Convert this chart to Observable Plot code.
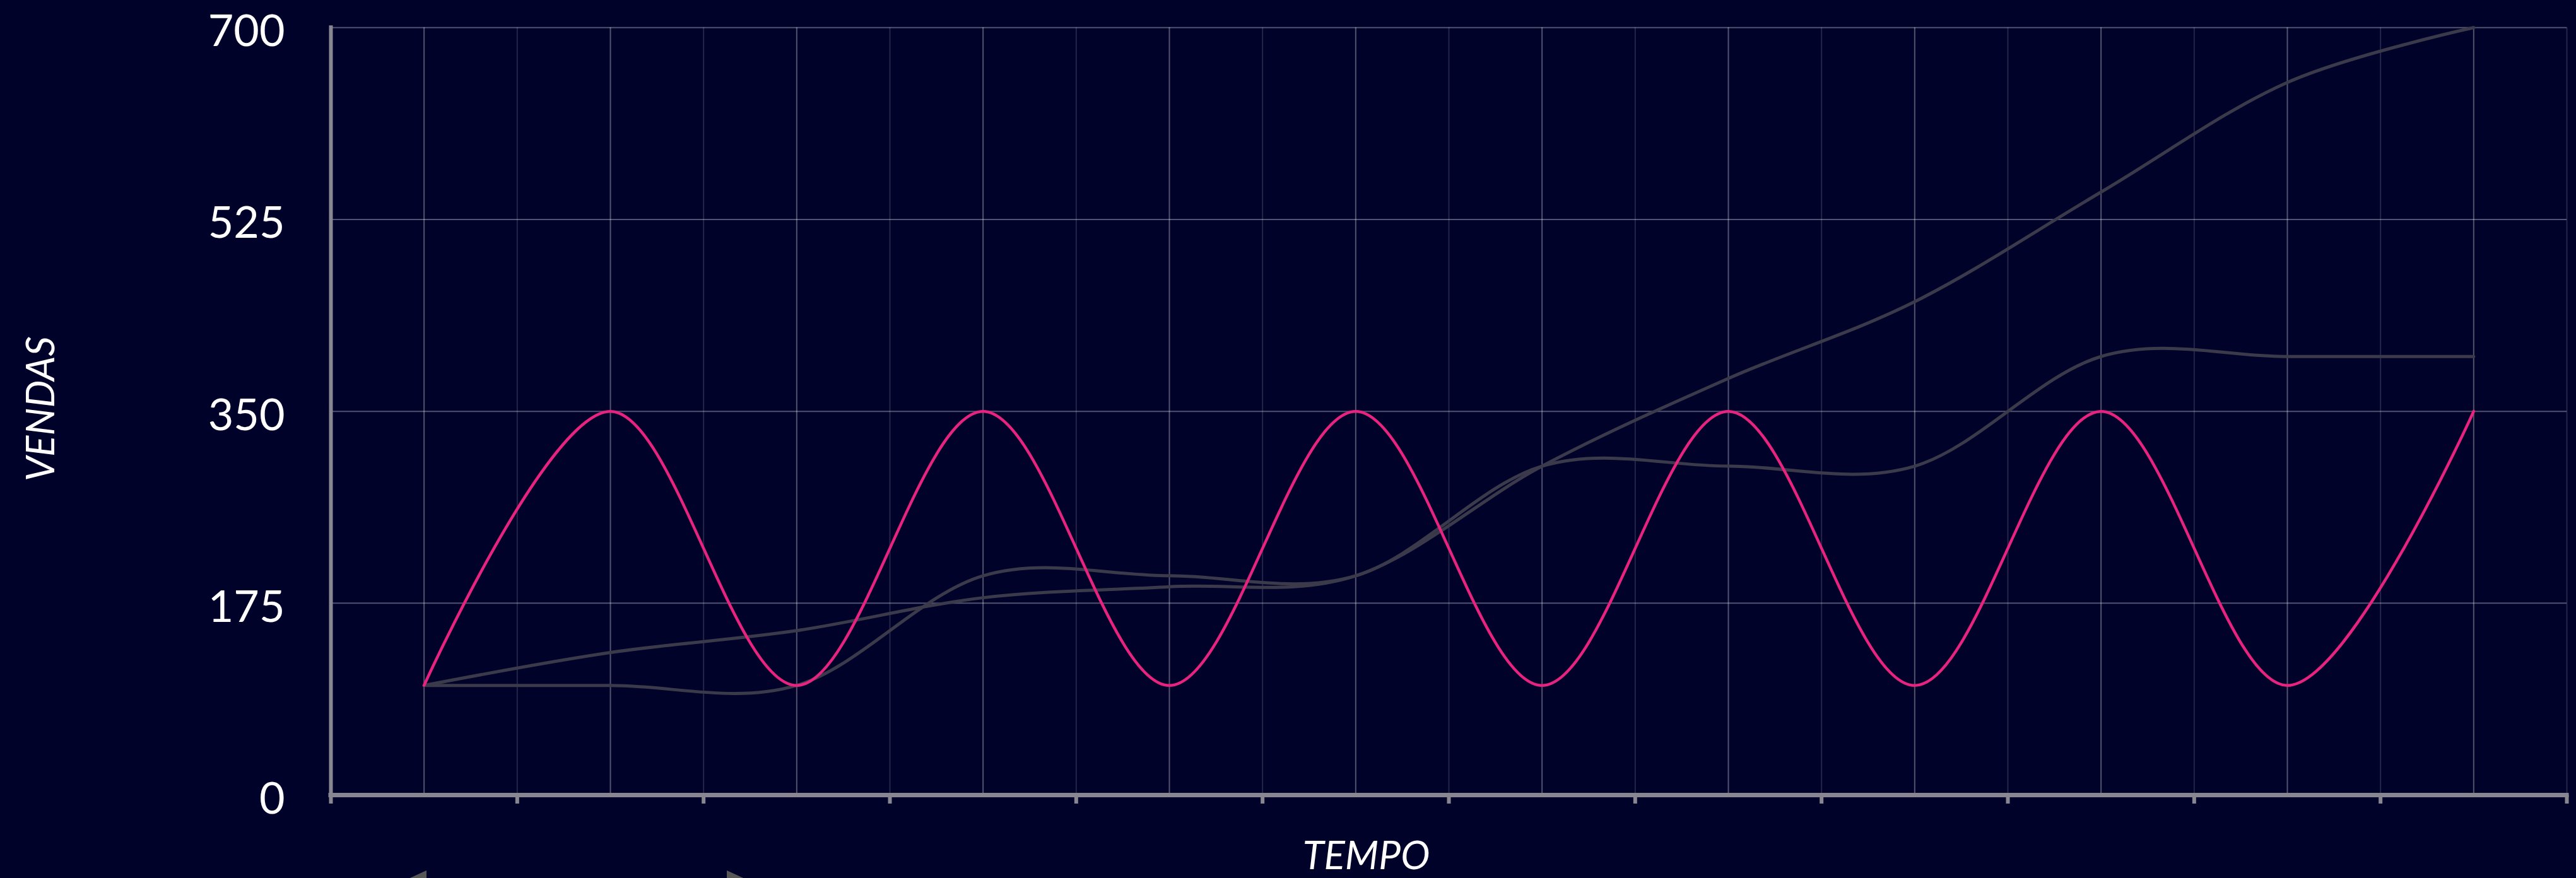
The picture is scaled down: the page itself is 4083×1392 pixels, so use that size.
<!DOCTYPE html>
<html>
<head>
<meta charset="utf-8">
<script src="https://cdn.jsdelivr.net/npm/d3@7"></script>
<script src="https://cdn.jsdelivr.net/npm/@observablehq/plot@0.6"></script>
<style>
  html, body { margin: 0; padding: 0; background: #00022a; overflow: hidden; }
  #chart { position: relative; width: 4083px; height: 1392px; }
  /* pagination arrows below the chart */
  .nav { position: absolute; top: 1380px; width: 0; height: 0;
         border-top: 22px solid transparent; border-bottom: 22px solid transparent; }
  .nav.prev { left: 628px; border-right: 48px solid #575757; }
  .nav.next { left: 1152px; border-left: 48px solid #575757; }
</style>
</head>
<body>
<div id="chart"></div>
<script>
// Periods along the time axis (unlabelled positions)
const periodos = [0, 1, 2, 3, 4, 5, 6, 7, 8, 9, 10, 11];
// Band boundaries between periods, where the axis ticks sit
const limitesTempo = [-0.5, 0.5, 1.5, 2.5, 3.5, 4.5, 5.5, 6.5, 7.5, 8.5, 9.5, 10.5, 11.5];

// Sales series
const serieRosa = [100, 350, 100, 350, 100, 350, 100, 350, 100, 350, 100, 350];
const serieCrescente = [100, 130, 150, 180, 190, 200, 300, 380, 450, 550, 650, 700];
const serieDegraus = [100, 100, 100, 200, 200, 200, 300, 300, 300, 400, 400, 400];

// Sales axis ticks
const ticksVendas = [0, 175, 350, 525, 700];

const linhas = (valores) => periodos.map((p, i) => ({periodo: p, vendas: valores[i]}));

const eixo = "#878691";

const chart = Plot.plot({
  width: 4083,
  height: 1392,
  marginTop: 43.3,
  marginBottom: 132,
  marginLeft: 524,
  marginRight: 15,
  x: {domain: [-0.5, 11.5]},
  y: {domain: [0, 700]},
  style: {background: "#00022a", color: "#fff", fontFamily: "Lato, 'Open Sans', sans-serif"},
  marks: [
    Plot.gridX(limitesTempo, {stroke: "#fff", strokeOpacity: 0.14, strokeWidth: 2}),
    Plot.gridX(periodos, {stroke: "#fff", strokeOpacity: 0.32, strokeWidth: 2}),
    Plot.gridY(ticksVendas, {stroke: "#fff", strokeOpacity: 0.32, strokeWidth: 2}),

    Plot.line(linhas(serieDegraus), {x: "periodo", y: "vendas", curve: "cardinal", stroke: "#3b3a4b", strokeWidth: 5}),
    Plot.line(linhas(serieCrescente), {x: "periodo", y: "vendas", curve: "cardinal", stroke: "#3b3a4b", strokeWidth: 5}),
    Plot.line(linhas(serieRosa), {x: "periodo", y: "vendas", curve: "cardinal", stroke: "#e8237f", strokeWidth: 4.5}),

    Plot.ruleX([-0.5], {stroke: eixo, strokeWidth: 6, strokeLinecap: "square"}),
    Plot.ruleY([0], {stroke: eixo, strokeWidth: 7, strokeLinecap: "square"}),
    Plot.axisX(limitesTempo, {tickSize: 14, stroke: eixo, strokeWidth: 6, tickFormat: () => "", label: null}),
    Plot.axisY(ticksVendas, {tickSize: 0, tickPadding: 73, fontSize: 70, fill: "#fff", dy: 7, label: null}),

    Plot.text(["TEMPO"], {text: d => d, frameAnchor: "bottom", dx: -131, dy: 117,
      textAnchor: "middle", lineAnchor: "bottom", fontSize: 62, fontStyle: "italic", fill: "#fff"}),
    Plot.text(["VENDAS"], {text: d => d, frameAnchor: "left", rotate: -90, dx: -438.5, dy: -4,
      textAnchor: "middle", lineAnchor: "bottom", fontSize: 62, fontStyle: "italic", fill: "#fff"})
  ]
});

const host = document.getElementById("chart");
host.appendChild(chart);
const prev = document.createElement("div");
prev.className = "nav prev";
const next = document.createElement("div");
next.className = "nav next";
host.appendChild(prev);
host.appendChild(next);
</script>
</body>
</html>
